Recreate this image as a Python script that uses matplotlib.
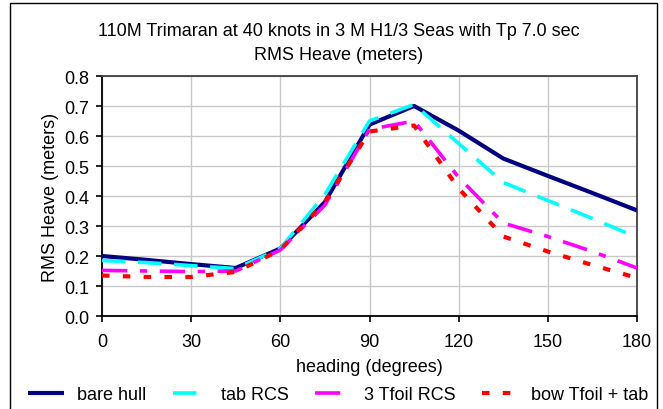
import matplotlib
matplotlib.use("Agg")
import matplotlib.pyplot as plt
from matplotlib.patches import Rectangle

plt.rcParams["font.family"] = ["Liberation Sans", "DejaVu Sans"]

# heading (degrees) and RMS heave (meters)
heading = [0, 15, 30, 45, 60, 75, 90, 105, 120, 135, 150, 165, 180]
bare_hull = [0.200, 0.187, 0.173, 0.160, 0.225, 0.380, 0.638, 0.700, 0.618, 0.525, 0.467, 0.410, 0.352]
tab_rcs = [0.185, 0.178, 0.168, 0.158, 0.225, 0.405, 0.650, 0.705, 0.575, 0.445, 0.385, 0.325, 0.262]
tfoil_rcs = [0.152, 0.150, 0.148, 0.150, 0.220, 0.370, 0.622, 0.650, 0.462, 0.310, 0.265, 0.215, 0.160]
bow_tfoil_tab = [0.135, 0.130, 0.130, 0.147, 0.220, 0.380, 0.615, 0.635, 0.425, 0.265, 0.215, 0.170, 0.127]

series_names = ["bare hull", "tab RCS", "3 Tfoil RCS", "bow Tfoil + tab"]

fs = 13

fig = plt.figure(figsize=(6.63, 4.10), dpi=100)
ax = fig.add_axes([102 / 663, 1 - 317 / 410, 535 / 663, 240 / 410])

ax.plot(heading, bare_hull, color="#000080", lw=3.0, label=series_names[0],
        solid_capstyle="butt", zorder=3)
ax.plot(heading, tab_rcs, color="#00FFFF", lw=2.6, ls=(0, (6.5, 3.5)),
        label=series_names[1], dash_capstyle="butt", zorder=4)
ax.plot(heading, tfoil_rcs, color="#FF00FF", lw=2.6, ls=(0, (7, 3.5, 2, 3.5)),
        label=series_names[2], dash_capstyle="butt", zorder=5)
ax.plot(heading, bow_tfoil_tab, color="#FF0000", lw=3.0, ls=(0, (1.8, 3.2)),
        label=series_names[3], dash_capstyle="butt", zorder=6)

ax.set_xlim(0, 180)
ax.set_ylim(0, 0.8)
ax.set_xticks(range(0, 181, 30))
ax.set_yticks([i / 10 for i in range(9)])
ax.set_yticklabels([f"{i / 10:.1f}" for i in range(9)])
ax.grid(True, color="#c8c8c8", lw=1.0)
ax.set_axisbelow(True)
ax.tick_params(labelsize=fs, direction="out", length=4, width=1.2, colors="black")
ax.tick_params(axis="x", pad=8)
ax.tick_params(axis="y", pad=5)
for side in ["left", "bottom", "top", "right"]:
    ax.spines[side].set_linewidth(1.3)
ax.spines["right"].set_color("#404040")
ax.spines["top"].set_color("#404040")

ax.set_xlabel("heading (degrees)", fontsize=fs, labelpad=6)
ax.set_ylabel("RMS Heave (meters)", fontsize=fs, labelpad=4)

fig.text(0.511, 1 - 31 / 410, "110M Trimaran at 40 knots in 3 M H1/3 Seas with Tp 7.0 sec",
         ha="center", va="center", fontsize=fs)
fig.text(0.511, 1 - 55 / 410, "RMS Heave (meters)", ha="center", va="center", fontsize=fs)

fig.legend(loc="center", bbox_to_anchor=(0.51, 1 - 396 / 410), ncol=4, frameon=False,
           fontsize=fs, handlelength=2.0, columnspacing=1.45, handletextpad=0.7)

# outer chart border
fig.patches.append(Rectangle((10 / 663, -0.01), 647 / 663, 1.0, transform=fig.transFigure,
                             fill=False, edgecolor="black", lw=1.0))

fig.savefig("out.png", dpi=100)
